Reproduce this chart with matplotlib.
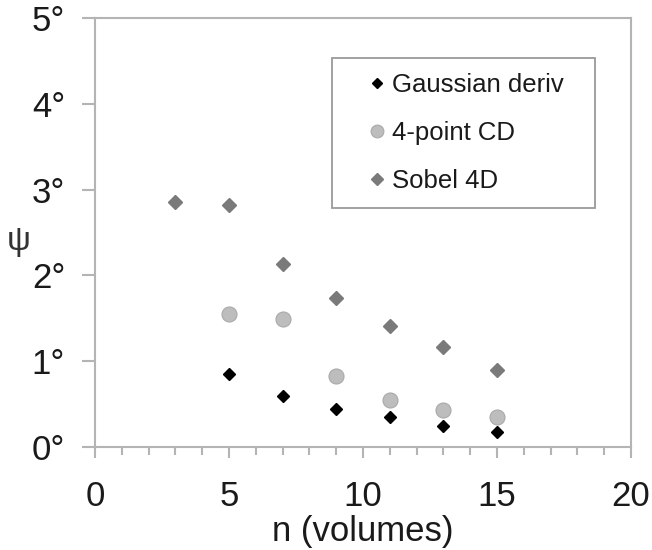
import matplotlib
matplotlib.use("Agg")
import matplotlib.pyplot as plt
from matplotlib.ticker import FixedLocator, FixedFormatter, MultipleLocator

plt.rcParams['font.family'] = ['Liberation Sans', 'DejaVu Sans']

# angular error psi (degrees) versus number of volumes n
n_gauss = [5, 7, 9, 11, 13, 15]
psi_gauss = [0.85, 0.59, 0.44, 0.35, 0.245, 0.18]

n_cd4 = [5, 7, 9, 11, 13, 15]
psi_cd4 = [1.55, 1.49, 0.83, 0.55, 0.43, 0.35]

n_sobel = [3, 5, 7, 9, 11, 13, 15]
psi_sobel = [2.86, 2.82, 2.13, 1.74, 1.41, 1.16, 0.90]

x_ticks = [0, 5, 10, 15, 20]
x_tick_labels = ["0", "5", "10", "15", "20"]
y_ticks = [0, 1, 2, 3, 4, 5]
y_tick_labels = ["0°", "1°", "2°", "3°", "4°", "5°"]

fig = plt.figure(figsize=(6.52, 5.5), dpi=100)
ax = fig.add_axes([0.1457, 0.1873, 0.8221, 0.78])

ax.plot(n_gauss, psi_gauss, linestyle='none', marker='D', ms=6.4,
        color='black', label='Gaussian deriv', clip_on=False)
ax.plot(n_cd4, psi_cd4, linestyle='none', marker='o', ms=10.8,
        markerfacecolor='#bdbdbd', markeredgecolor='#a9a9a9', markeredgewidth=0.8,
        label='4-point CD', clip_on=False)
ax.plot(n_sobel, psi_sobel, linestyle='none', marker='D', ms=7.2,
        color='#7a7a7a', label='Sobel 4D', clip_on=False)

ax.set_xlim(0, 20)
ax.set_ylim(0, 5)

spine_color = '#b4b4b4'
for s in ax.spines.values():
    s.set_color(spine_color)
    s.set_linewidth(1.5)

ax.xaxis.set_major_locator(FixedLocator(x_ticks))
ax.xaxis.set_major_formatter(FixedFormatter(x_tick_labels))
ax.xaxis.set_minor_locator(MultipleLocator(1))
ax.yaxis.set_major_locator(FixedLocator(y_ticks))
ax.yaxis.set_major_formatter(FixedFormatter(y_tick_labels))

ax.tick_params(axis='both', which='both', direction='out', color=spine_color,
               width=1.5, labelsize=25, labelcolor='#1a1a1a')
ax.tick_params(axis='x', which='major', length=8, pad=16)
ax.tick_params(axis='x', which='minor', length=6)
ax.tick_params(axis='y', which='major', length=9.5, pad=12)

ax.set_xlabel('n (volumes)', fontsize=25, color='#1a1a1a', va='top')
ax.xaxis.set_label_coords(0.5, -0.158)
ax.set_ylabel('ψ', fontsize=24, color='#333333', rotation=0, va='center', ha='center')
ax.yaxis.set_label_coords(-0.142, 0.48)

leg = ax.legend(loc='upper left', bbox_to_anchor=(0.442, 0.907, 0.491, 0.0),
                mode='expand', fontsize=18.5, frameon=True, fancybox=False,
                borderpad=0.6, labelspacing=0.92, handlelength=2.3,
                handletextpad=-0.55, markerscale=0.85, borderaxespad=0)
frame = leg.get_frame()
frame.set_edgecolor('#9a9a9a')
frame.set_linewidth(1.3)
frame.set_facecolor('white')
frame.set_alpha(1)
for t in leg.get_texts():
    t.set_color('#1a1a1a')

fig.savefig('out.png', dpi=100)
